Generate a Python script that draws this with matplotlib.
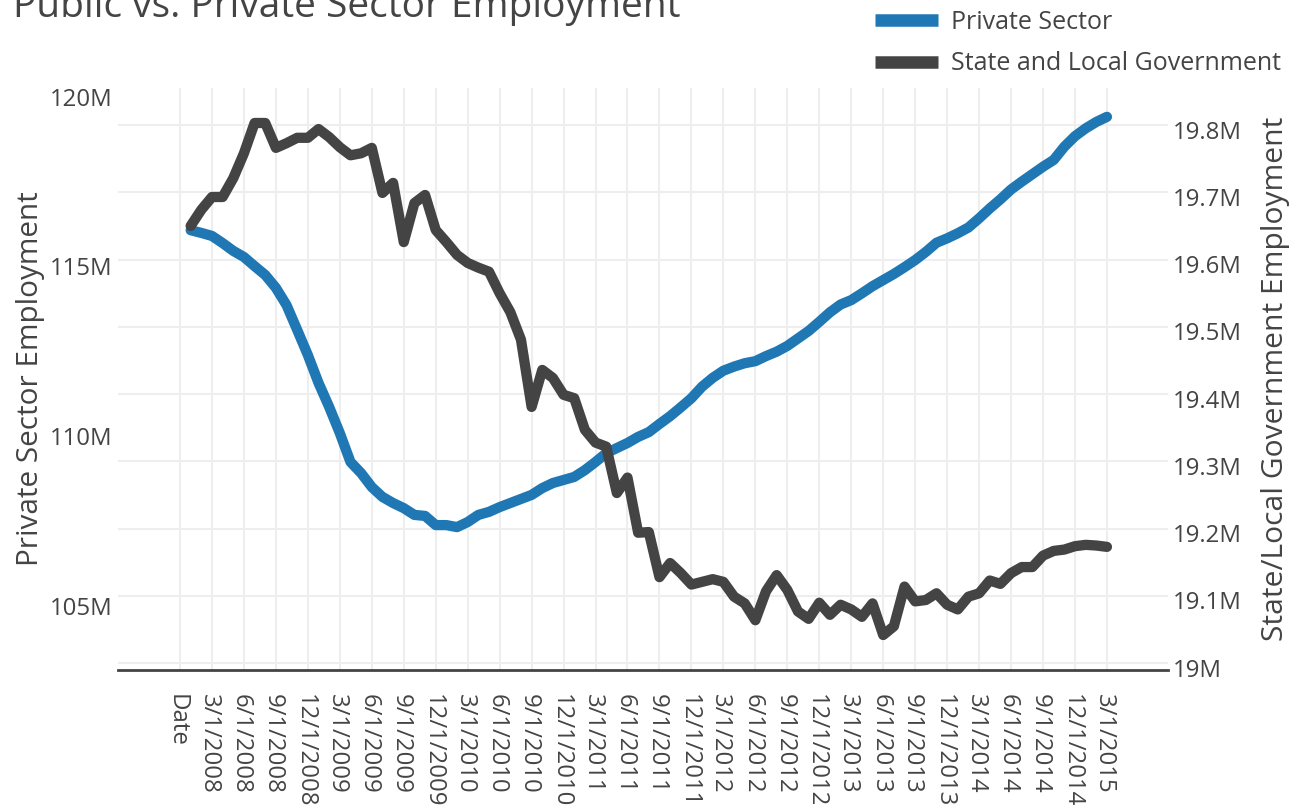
import numpy as np
import pandas as pd
import matplotlib
matplotlib.use("Agg")
from matplotlib import pyplot as plt
import matplotlib.transforms as mtransforms

plt.rcParams["font.family"] = ["Open Sans", "DejaVu Sans"]
txt = "#444444"

# monthly values, 1/1/2008 .. 3/1/2015 (millions)
months = pd.date_range("2008-01-01", "2015-03-01", freq="MS")
categories = ["Date"] + [f"{d.month}/1/{d.year}" for d in months]

private = [115.93, 115.85, 115.76, 115.55, 115.32, 115.14, 114.87, 114.61, 114.23, 113.72,
           112.99, 112.25, 111.43, 110.72, 109.95, 109.10, 108.77, 108.36, 108.07, 107.89,
           107.74, 107.54, 107.51, 107.24, 107.24, 107.18, 107.33, 107.54, 107.63, 107.77,
           107.89, 108.01, 108.13, 108.33, 108.48, 108.57, 108.66, 108.86, 109.10, 109.36,
           109.51, 109.66, 109.84, 109.98, 110.22, 110.45, 110.71, 110.98, 111.32, 111.58,
           111.79, 111.91, 112.01, 112.07, 112.22, 112.35, 112.52, 112.74, 112.96, 113.23,
           113.51, 113.74, 113.87, 114.07, 114.28, 114.46, 114.64, 114.84, 115.05, 115.29,
           115.56, 115.69, 115.84, 116.01, 116.28, 116.57, 116.84, 117.13, 117.36, 117.58,
           117.80, 118.00, 118.39, 118.70, 118.93, 119.12, 119.27]

state_local = [19.650, 19.674, 19.693, 19.693, 19.721, 19.758, 19.803, 19.803, 19.766, 19.773,
               19.781, 19.781, 19.794, 19.782, 19.767, 19.755, 19.758, 19.766, 19.699, 19.714,
               19.626, 19.684, 19.696, 19.644, 19.626, 19.607, 19.595, 19.588, 19.582, 19.550,
               19.522, 19.481, 19.381, 19.436, 19.424, 19.399, 19.394, 19.347, 19.328, 19.322,
               19.253, 19.276, 19.194, 19.195, 19.128, 19.149, 19.134, 19.117, 19.121, 19.125,
               19.121, 19.099, 19.089, 19.064, 19.107, 19.131, 19.109, 19.077, 19.066, 19.090,
               19.072, 19.087, 19.080, 19.069, 19.089, 19.042, 19.055, 19.114, 19.092, 19.094,
               19.104, 19.087, 19.080, 19.099, 19.104, 19.123, 19.118, 19.134, 19.143, 19.143,
               19.160, 19.167, 19.169, 19.174, 19.176, 19.175, 19.173]

left_ticks = [105, 110, 115, 120]
right_ticks = [19.0, 19.1, 19.2, 19.3, 19.4, 19.5, 19.6, 19.7, 19.8]

W, H = 1293, 811
L, R, T, B = 118, 1168, 88, 670
pos = [L / W, 1 - B / H, (R - L) / W, (B - T) / H]
xlim = (-5.82, 92.73)
ylim_l = (102.97, 120.12)
ylim_r = (18.990, 19.855)

x = np.arange(1, len(categories))
tick_pos = np.arange(0, len(categories), 3)
tick_lab = categories[::3]

fig = plt.figure(figsize=(W / 100, H / 100), dpi=100)
shift_down = mtransforms.ScaledTranslation(0, -0.045, fig.dpi_scale_trans)
shift_left = mtransforms.ScaledTranslation(-0.03, -0.02, fig.dpi_scale_trans)

# grid lives on its own axes underneath the lines
gax = fig.add_axes(pos, zorder=0)
gax.set_xlim(*xlim)
gax.set_ylim(*ylim_r)
gax.set_xticks(tick_pos)
gax.set_yticks(right_ticks)
gax.grid(True, color="#eeeeee", lw=1.5)
gax.tick_params(length=0, labelbottom=False, labelleft=False)
for s in gax.spines.values():
    s.set_visible(False)

ax = fig.add_axes(pos, zorder=1)
ax.patch.set_visible(False)
l1, = ax.plot(x, private, color="#1f77b4", lw=7.4, solid_joinstyle="round",
              solid_capstyle="round", label="Private Sector")
ax.set_xlim(*xlim)
ax.set_ylim(*ylim_l)
ax.set_xticks(tick_pos, tick_lab, rotation=-90, ha="center", va="top")
ax.set_yticks(left_ticks, [f"{v}M" for v in left_ticks])
ax.tick_params(axis="x", length=0, pad=15.5, labelsize=17.3, colors=txt)
ax.tick_params(axis="y", length=0, pad=3.6, labelsize=17.3, colors=txt)
for lab in ax.get_yticklabels():
    lab.set_transform(lab.get_transform() + shift_down)
for lab in ax.get_xticklabels():
    lab.set_transform(lab.get_transform() + shift_left)
for k in ["top", "left", "right"]:
    ax.spines[k].set_visible(False)
ax.spines["bottom"].set_color(txt)
ax.spines["bottom"].set_linewidth(2)
ax.set_ylabel("Private Sector Employment", fontsize=21.4, color=txt)
ax.yaxis.set_label_coords(-0.0695, 0.5)

ax2 = ax.twinx()
l2, = ax2.plot(x, state_local, color="#444444", lw=7.4, solid_joinstyle="round",
               solid_capstyle="round", label="State and Local Government")
ax2.set_ylim(*ylim_r)
ax2.set_yticks(right_ticks, [f"{v:g}M" for v in right_ticks])
ax2.tick_params(axis="y", length=0, pad=3.6, labelsize=17.3, colors=txt)
for lab in ax2.get_yticklabels():
    lab.set_transform(lab.get_transform() + shift_down)
for s in ax2.spines.values():
    s.set_visible(False)
ax2.set_ylabel("State/Local Government Employment", fontsize=21.6, color=txt)
ax2.yaxis.set_label_coords(1.0885, 0.5)

fig.text(13 / W, 1 - 17 / H, "Public vs. Private Sector Employment", fontsize=28,
         color=txt, va="baseline", ha="left")

leg = fig.legend([l1, l2], ["Private Sector", "State and Local Government"], loc="upper left",
                 bbox_to_anchor=(875 / W, 1 - 10 / H), frameon=False, fontsize=18,
                 labelcolor=txt, handlelength=2.5, handletextpad=0.55, labelspacing=0.66,
                 borderpad=0, borderaxespad=0)
for h in leg.legend_handles:
    h.set_linewidth(9)
    h.set_solid_capstyle("butt")

fig.savefig("out.png", dpi=100)
